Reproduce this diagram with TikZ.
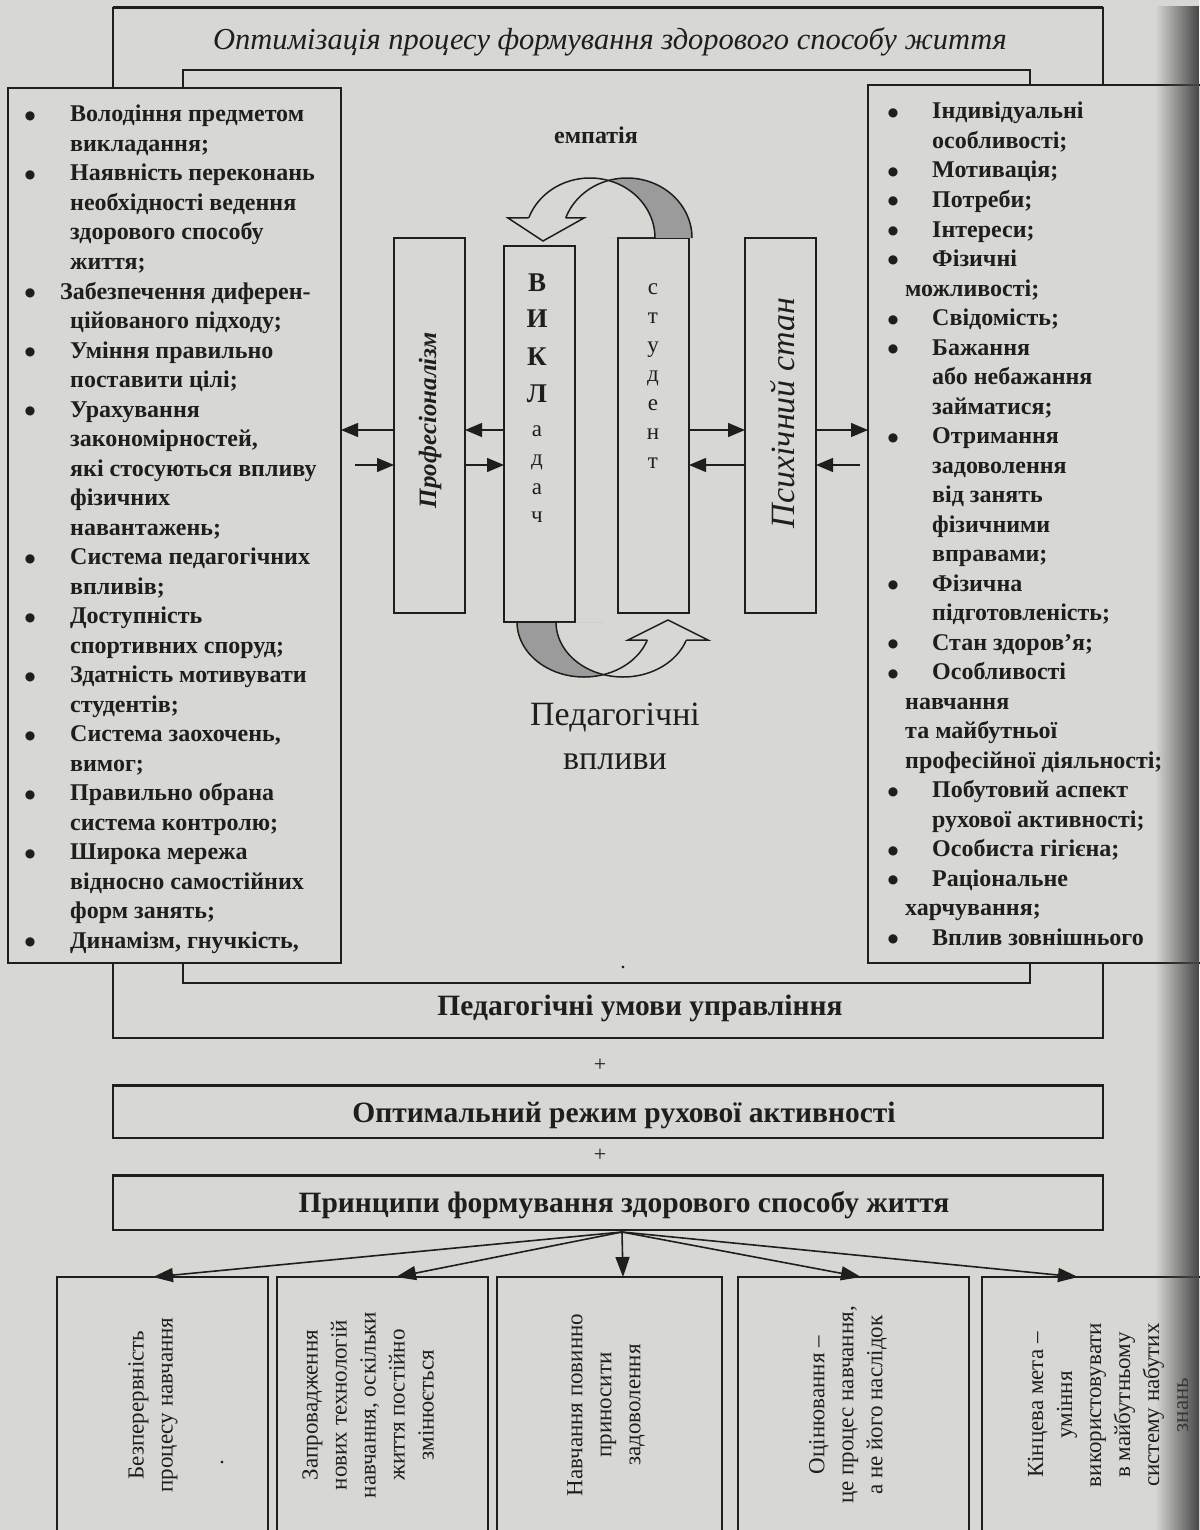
\documentclass[tikz,border=0pt]{standalone}
\usepackage{fontspec}
\setmainfont{Liberation Serif}
\newfontfamily\bulfont{DejaVu Sans}
\usetikzlibrary{arrows.meta,calc,fadings}
\definecolor{paper}{RGB}{215,215,212}
\definecolor{ink}{RGB}{30,30,30}
\definecolor{shadeg}{RGB}{155,155,155}
\tikzfading[name=fadeR, left color=transparent!100, right color=transparent!0]
\newcommand\myL[3]{\node[ltxt] (L#1) at (#2,{122+29.5*(#1-1)}) {#3};}
\newcommand\myR[3]{\node[ltxt] (R#1) at (#2,{119+29.5*(#1-1)}) {#3};}
\newcommand\myLB[1]{\node[bul] (LB#1) at (30,{119.5+29.5*(#1-1)}) {●};}
\newcommand\myRB[1]{\node[bul] (RB#1) at (893,{116.5+29.5*(#1-1)}) {●};}
\begin{document}
\begin{tikzpicture}[x=1pt,y=-1pt,
  box/.style={draw=ink,line width=1.6pt,fill=paper,inner sep=0pt,outer sep=0pt,anchor=north west},
  col/.style={box,minimum width=71},
  ltxt/.style={font=\fontsize{24}{29}\selectfont\bfseries,anchor=base west,inner sep=0pt,text=ink},
  bul/.style={font=\bulfont\fontsize{12}{12}\selectfont,anchor=base,inner sep=0pt,text=ink},
  arr/.style={draw=ink,line width=1.3pt,-{Triangle[length=17pt,width=14pt]}},
  fanarr/.style={draw=ink,line width=1.6pt,-{Triangle[length=20pt,width=14pt]}},
  rot/.style={rotate=90,align=center,font=\fontsize{23}{29}\selectfont,text=ink,inner sep=0pt},
  head/.style={font=\fontsize{29.5}{29.5}\selectfont\bfseries,text=ink,inner sep=0pt},
  vbig/.style={font=\fontsize{27}{27}\selectfont\bfseries,anchor=base,text=ink,inner sep=0pt},
  vsm/.style={font=\fontsize{23}{23}\selectfont,anchor=base,text=ink,inner sep=0pt},
  curve/.style={draw=ink,line width=1.5pt}
]
\useasboundingbox (0,0) rectangle (1199,1530);
\fill[paper] (0,0) rectangle (1199,1530);

% frames
\node[box,minimum width=990,minimum height=1030] (frameOut) at (113,8) {};
\draw[ink,line width=3pt] (frameOut.north west) -- (frameOut.north east);
\node[box,minimum width=847,minimum height=913] (frameIn) at (183,70) {};
\draw[ink,line width=2.4pt] (frameIn.north west) -- (frameIn.north east);

\node[font=\fontsize{30.5}{30.5}\selectfont\itshape,text=ink] (title) at (610,42) {Оптимізація процесу формування здорового способу життя};

% side boxes
\node[box,minimum width=333,minimum height=875] (leftbox) at (8,88) {};
\node[box,minimum width=420,minimum height=878] (rightbox) at (868,85) {};

% left list
\myLB{1}\myL{1}{70}{Володіння предметом}
\myL{2}{70}{викладання;}
\myLB{3}\myL{3}{70}{Наявність переконань}
\myL{4}{70}{необхідності ведення}
\myL{5}{70}{здорового способу}
\myL{6}{70}{життя;}
\myLB{7}\myL{7}{60}{Забезпечення диферен-}
\myL{8}{70}{ційованого підходу;}
\myLB{9}\myL{9}{70}{Уміння правильно}
\myL{10}{70}{поставити цілі;}
\myLB{11}\myL{11}{70}{Урахування}
\myL{12}{70}{закономірностей,}
\myL{13}{70}{які стосуються впливу}
\myL{14}{70}{фізичних}
\myL{15}{70}{навантажень;}
\myLB{16}\myL{16}{70}{Система педагогічних}
\myL{17}{70}{впливів;}
\myLB{18}\myL{18}{70}{Доступність}
\myL{19}{70}{спортивних споруд;}
\myLB{20}\myL{20}{70}{Здатність мотивувати}
\myL{21}{70}{студентів;}
\myLB{22}\myL{22}{70}{Система заохочень,}
\myL{23}{70}{вимог;}
\myLB{24}\myL{24}{70}{Правильно обрана}
\myL{25}{70}{система контролю;}
\myLB{26}\myL{26}{70}{Широка мережа}
\myL{27}{70}{відносно самостійних}
\myL{28}{70}{форм занять;}
\myLB{29}\myL{29}{70}{Динамізм, гнучкість,}

% right list
\myRB{1}\myR{1}{932}{Індивідуальні}
\myR{2}{932}{особливості;}
\myRB{3}\myR{3}{932}{Мотивація;}
\myRB{4}\myR{4}{932}{Потреби;}
\myRB{5}\myR{5}{932}{Інтереси;}
\myRB{6}\myR{6}{932}{Фізичні}
\myR{7}{905}{можливості;}
\myRB{8}\myR{8}{932}{Свідомість;}
\myRB{9}\myR{9}{932}{Бажання}
\myR{10}{932}{або небажання}
\myR{11}{932}{займатися;}
\myRB{12}\myR{12}{932}{Отримання}
\myR{13}{932}{задоволення}
\myR{14}{932}{від занять}
\myR{15}{932}{фізичними}
\myR{16}{932}{вправами;}
\myRB{17}\myR{17}{932}{Фізична}
\myR{18}{932}{підготовленість;}
\myRB{19}\myR{19}{932}{Стан здоров’я;}
\myRB{20}\myR{20}{932}{Особливості}
\myR{21}{905}{навчання}
\myR{22}{905}{та майбутньої}
\myR{23}{905}{професійної діяльності;}
\myRB{24}\myR{24}{932}{Побутовий аспект}
\myR{25}{932}{рухової активності;}
\myRB{26}\myR{26}{932}{Особиста гігієна;}
\myRB{27}\myR{27}{932}{Раціональне}
\myR{28}{905}{харчування;}
\myRB{29}\myR{29}{932}{Вплив зовнішнього}

% central columns
\node[col,minimum height=375] (prof) at (394,238) {};
\node[col,minimum height=376] (vykl) at (504,246) {};
\node[col,minimum height=375] (stud) at (618,238) {};
\node[col,minimum height=375] (psych) at (745,238) {};

\node[rotate=90,font=\fontsize{25}{25}\selectfont\bfseries\itshape,text=ink,inner sep=0pt] (proftxt) at (430,420) {Професіоналізм};
\node[rotate=90,font=\fontsize{34}{34}\selectfont\itshape,text=ink,inner sep=0pt] (psychtxt) at (783,413) {Психічний стан};

\node[vbig] (v1) at (537,291) {В};
\node[vbig] (v2) at (537,327) {И};
\node[vbig] (v3) at (537,365) {К};
\node[vbig] (v4) at (537,402) {Л};
\node[vsm] (v5) at (537,436) {а};
\node[vsm] (v6) at (537,465) {д};
\node[vsm] (v7) at (537,494) {а};
\node[vsm] (v8) at (537,522) {ч};

\node[vsm] (s1) at (653,294) {с};
\node[vsm] (s2) at (653,323) {т};
\node[vsm] (s3) at (653,352) {у};
\node[vsm] (s4) at (653,381) {д};
\node[vsm] (s5) at (653,410) {е};
\node[vsm] (s6) at (653,439) {н};
\node[vsm] (s7) at (653,468) {т};

% row coordinates
\coordinate (r1) at (0,430);
\coordinate (r2) at (0,465);
\coordinate (s2l) at (355,465);
\coordinate (s2r) at (860,465);

\draw[arr] (prof.west |- r1) -- (leftbox.east |- r1);
\draw[arr] (vykl.west |- r1) -- (prof.east |- r1);
\draw[arr] (stud.east |- r1) -- (psych.west |- r1);
\draw[arr] (psych.east |- r1) -- (rightbox.west |- r1);
\draw[arr] (s2l) -- (prof.west |- r2);
\draw[arr] (prof.east |- r2) -- (vykl.west |- r2);
\draw[arr] (psych.west |- r2) -- (stud.east |- r2);
\draw[arr] (s2r) -- (psych.east |- r2);

% top curved arrow (empathy)
\node[font=\fontsize{24}{24}\selectfont\bfseries,text=ink] (emp) at (596,135) {емпатія};
\begin{scope}
\clip (608.5,150) rectangle (700,238);
\fill[shadeg,even odd rule]
  plot[domain=0:180,samples=60,variable=\t] ({590+65*cos(\t)},{238-60*sin(\t)}) -- cycle
  plot[domain=0:180,samples=60,variable=\t] ({627+65*cos(\t)},{238-60*sin(\t)}) -- cycle;
\end{scope}
\draw[curve] plot[domain=0:160.5,samples=60,variable=\t] ({590+65*cos(\t)},{238-60*sin(\t)});
\draw[curve] plot[domain=0:160.5,samples=60,variable=\t] ({627+65*cos(\t)},{238-60*sin(\t)});
\draw[curve,fill=paper,line join=miter] (528.7,218) -- (508,218) -- (543,241) -- (584,218) -- (565.7,218);

% bottom curved arrow
\begin{scope}
\clip (500,622) rectangle (603.5,700);
\fill[shadeg,even odd rule]
  plot[domain=0:180,samples=60,variable=\t] ({584+67*cos(\t)},{622+55*sin(\t)}) -- cycle
  plot[domain=0:180,samples=60,variable=\t] ({623+67*cos(\t)},{622+55*sin(\t)}) -- cycle;
\end{scope}
\draw[curve] plot[domain=19.1:180,samples=60,variable=\t] ({584+67*cos(\t)},{622+55*sin(\t)});
\draw[curve] plot[domain=19.1:180,samples=60,variable=\t] ({623+67*cos(\t)},{622+55*sin(\t)});
\draw[curve] (517,622) -- (556,622);
\draw[curve,fill=paper,line join=miter] (647.3,640) -- (628,640) -- (668,620) -- (708,640) -- (686.3,640);

\node[font=\fontsize{34}{34}\selectfont,text=ink] (ped1) at (615,718) {Педагогічні};
\node[font=\fontsize{34}{34}\selectfont,text=ink] (ped2) at (615,762) {впливи};

\node[font=\fontsize{22}{22}\selectfont,text=ink] (dot1) at (623,968) {.};
\node[head] (umovy) at (640,1008) {Педагогічні умови управління};

\node[font=\fontsize{22}{22}\selectfont,text=ink] (plus1) at (600,1065) {+};
\node[box,minimum width=990,minimum height=53] (rezhym) at (113,1085) {};
\draw[ink,line width=3pt] (rezhym.north west) -- (rezhym.north east);
\node[head] (rezhymtxt) at (624,1115) {Оптимальний режим рухової активності};

\node[font=\fontsize{22}{22}\selectfont,text=ink] (plus2) at (600,1155) {+};
\node[box,minimum width=990,minimum height=55] (pryn) at (113,1175) {};
\draw[ink,line width=3pt] (pryn.north west) -- (pryn.north east);
\node[head] (pryntxt) at (624,1205) {Принципи формування здорового способу життя};

% principle boxes
\node[box,minimum width=211,minimum height=300] (b1) at (57,1277) {};
\node[box,minimum width=211,minimum height=300] (b2) at (277,1277) {};
\node[box,minimum width=225,minimum height=300] (b3) at (497,1277) {};
\node[box,minimum width=231,minimum height=300] (b4) at (738,1277) {};
\node[box,minimum width=320,minimum height=300] (b5) at (982,1277) {};

\coordinate (fanO) at (622,1232);
\draw[fanarr] (fanO) -- ($(b1.north west)+(96,0)$);
\draw[fanarr] (fanO) -- ($(b2.north west)+(119,0)$);
\draw[fanarr] (fanO) -- ($(b3.north west)+(126,0)$);
\draw[fanarr] (fanO) -- ($(b4.north west)+(123,0)$);
\draw[fanarr] (fanO) -- ($(b5.north west)+(96,0)$);

\node[rot] (p1) at (153,1405) {Безперервність\\процесу навчання};
\node[font=\fontsize{22}{22}\selectfont,text=ink] (dot2) at (222,1462) {.};
\node[rot] (p2) at (368,1405) {Запровадження\\нових технологій\\навчання, оскільки\\життя постійно\\змінюється};
\node[rot] (p3) at (606,1405) {Навчання повинно\\приносити\\задоволення};
\node[rot] (p4) at (848,1405) {Оцінювання –\\це процес навчання,\\а не його наслідок};
\node[rot] (p5) at (1108,1405) {Кінцева мета –\\уміння\\використовувати\\в майбутньому\\систему набутих\\знань};

% page shadow at right edge
\fill[black!72,path fading=fadeR] (1155,0) rectangle (1199,1530);
\end{tikzpicture}
\end{document}
